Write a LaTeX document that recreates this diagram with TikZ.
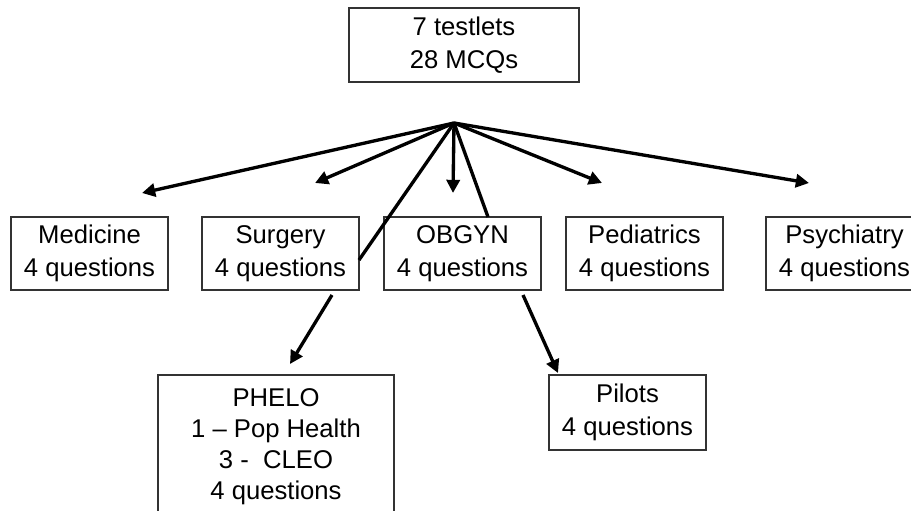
\documentclass[tikz,border=0pt]{standalone}
\usepackage{fontspec}
\setmainfont{Liberation Sans}
\usetikzlibrary{arrows.meta}
\definecolor{boxstroke}{HTML}{333333}

\begin{document}
\begin{tikzpicture}[
    x=0.02cm, y=-0.02cm,
    box/.style={
        draw=boxstroke, line width=0.7pt, fill=white,
        minimum width=3.14cm, minimum height=1.46cm,
        font=\fontsize{14.6}{18.6}\selectfont, align=center, inner sep=0pt
    },
    arr/.style={
        -{Triangle[length=7.5pt, width=7.5pt]}, line width=1.9pt
    },
    lnk/.style={
        line width=1.9pt
    }
]
\useasboundingbox (0,0) rectangle (911,510);

% Top box
\node[box, minimum width=4.6cm, minimum height=1.48cm] (top) at (464,45) {7 testlets\\28 MCQs};
\coordinate (hub) at (454,123);

% Clerkship row
\node[box] (med)   at (89.5,253.5)  {Medicine\\4 questions};
\node[box] (surg)  at (280.5,253.5) {Surgery\\4 questions};
\node[box] (obgyn) at (462.5,253.5) {OBGYN\\4 questions};
\node[box] (peds)  at (644.5,253.5) {Pediatrics\\4 questions};
\node[box] (psych) at (844.5,253.5) {Psychiatry\\4 questions};

% Bottom row
\node[box, minimum width=4.72cm, minimum height=2.86cm,
      font=\fontsize{14.6}{17.6}\selectfont] (phelo) at (276,446.5)
    {PHELO\\1 -- Pop Health\\3 -\ \ CLEO\\4 questions};
\node[box, minimum height=1.5cm] (pilots) at (627.5,412.5) {Pilots\\4 questions};

% Arrow ends
\coordinate (medtip)   at (142,193);
\coordinate (surgtip)  at (315,183);
\coordinate (obtip)    at (453,193);
\coordinate (pedstip)  at (602,183);
\coordinate (psychtip) at (809,183);
\coordinate (surgside) at (359,260);
\coordinate (obtop)    at (488,217);
\coordinate (surgout)  at (332,295);
\coordinate (phelotip) at (290,364);
\coordinate (obout)    at (523,295);
\coordinate (pilotip)  at (558,373);

% Arrows from hub
\draw[arr] (hub) -- (medtip);
\draw[arr] (hub) -- (surgtip);
\draw[arr] (hub) -- (obtip);
\draw[arr] (hub) -- (pedstip);
\draw[arr] (hub) -- (psychtip);
\draw[lnk] (hub) -- (surgside);
\draw[lnk] (hub) -- (obtop);

% Arrows to the lower boxes
\draw[arr] (surgout) -- (phelotip);
\draw[arr] (obout) -- (pilotip);

\end{tikzpicture}
\end{document}
